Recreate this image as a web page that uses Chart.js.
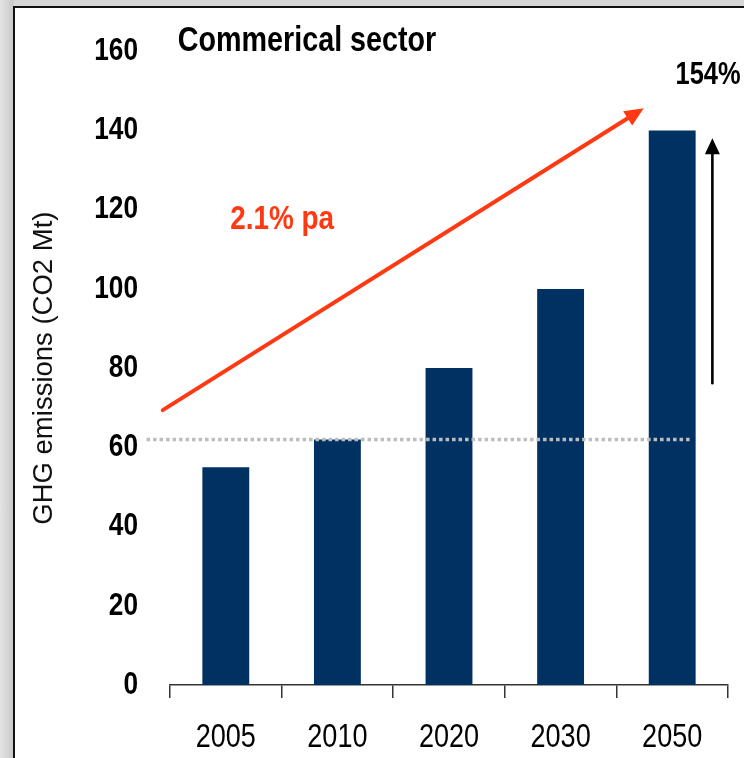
<!DOCTYPE html>
<html>
<head>
<meta charset="utf-8">
<script src="https://cdn.jsdelivr.net/npm/chart.js@4.4.0/dist/chart.umd.min.js"></script>
<style>
  html, body { margin: 0; padding: 0; width: 744px; height: 758px; overflow: hidden; }
  body { background: linear-gradient(to right, #e4e4e4 0px, #c9c9c9 13px, #d6d6d6 14px); position: relative; }
  #frame {
    position: absolute; left: 13px; top: 6px; right: 0; bottom: 0;
    background: #fff; border-left: 2px solid #111; border-top: 2px solid #111;
  }
  #wrap { position: absolute; left: 0; top: 0; width: 744px; height: 758px; }
</style>
</head>
<body>
<div id="frame"></div>
<div id="wrap"><canvas id="chart" width="744" height="758"></canvas></div>
<script>
// "Narrow" is not installed, so text in that family is squeezed horizontally below
const NARROW = '"Liberation Sans Narrow", "Liberation Sans", Arial, sans-serif';
const REGULAR = '"Liberation Sans", Arial, sans-serif';
const NARROW_SCALE = 0.82;

// data
const years = ["2005", "2010", "2020", "2030", "2050"];
const emissions = [55, 62, 80, 100, 140];
const yTicks = [0, 20, 40, 60, 80, 100, 120, 140, 160];
const baselineValue = 62;          // dotted reference line (2010 level)
const growthLabel = "2.1% pa";
const totalLabel = "154%";
const chartTitle = "Commerical sector";
const yTitle = "GHG emissions (CO2 Mt)";

// annotation anchors in data space: [category index, value]
const redArrow = { from: [-0.565, 69.4], to: [3.745, 145.6] };
const blackArrow = { from: [4.36, 76.2], to: [4.36, 138] };
const dottedLine = { from: [-0.71, baselineValue], to: [4.18, baselineValue] };

const canvas = document.getElementById("chart");
const ctx2d = canvas.getContext("2d");
const nativeFillText = CanvasRenderingContext2D.prototype.fillText;
ctx2d.fillText = function (text, x, y) {
    if (!this.font.includes("Narrow")) {
        return nativeFillText.call(this, text, x, y);
    }
    this.save();
    this.translate(x, y);
    this.scale(NARROW_SCALE, 1);
    nativeFillText.call(this, text, 0, 0);
    this.restore();
};

function drawArrow(ctx, x1, y1, x2, y2, color, width, headLen, headWidth) {
    const ang = Math.atan2(y2 - y1, x2 - x1);
    const bx = x2 - headLen * Math.cos(ang);
    const by = y2 - headLen * Math.sin(ang);
    ctx.save();
    ctx.strokeStyle = color;
    ctx.fillStyle = color;
    ctx.lineWidth = width;
    ctx.lineCap = "round";
    ctx.beginPath();
    ctx.moveTo(x1, y1);
    ctx.lineTo(bx + 2 * Math.cos(ang), by + 2 * Math.sin(ang));
    ctx.stroke();
    const px = -Math.sin(ang) * headWidth / 2;
    const py = Math.cos(ang) * headWidth / 2;
    ctx.beginPath();
    ctx.moveTo(x2, y2);
    ctx.lineTo(bx + px, by + py);
    ctx.lineTo(bx - px, by - py);
    ctx.closePath();
    ctx.fill();
    ctx.restore();
}

const annotations = {
    id: "annotations",
    afterDatasetsDraw(chart) {
        const { ctx, scales: { x, y } } = chart;
        const px = (p) => [x.getPixelForValue(p[0]), y.getPixelForValue(p[1])];

        // dotted baseline
        const [dx1, dy] = px(dottedLine.from);
        const [dx2] = px(dottedLine.to);
        ctx.save();
        ctx.strokeStyle = "#bdbdbd";
        ctx.lineWidth = 3.5;
        ctx.setLineDash([3.5, 3]);
        ctx.beginPath();
        ctx.moveTo(dx1, dy);
        ctx.lineTo(dx2, dy);
        ctx.stroke();
        ctx.restore();

        // growth arrows
        const [r1x, r1y] = px(redArrow.from);
        const [r2x, r2y] = px(redArrow.to);
        drawArrow(ctx, r1x, r1y, r2x, r2y, "#ff3a12", 4, 19, 17);
        const [b1x, b1y] = px(blackArrow.from);
        const [b2x, b2y] = px(blackArrow.to);
        drawArrow(ctx, b1x, b1y, b2x, b2y, "#000", 2.6, 16, 15);

        // texts
        ctx.save();
        ctx.textBaseline = "middle";
        ctx.textAlign = "left";
        ctx.fillStyle = "#000";
        ctx.font = "bold 35px " + NARROW;
        ctx.fillText(chartTitle, x.getPixelForValue(-0.43), y.getPixelForValue(162.5));
        ctx.font = "bold 31px " + NARROW;
        ctx.fillText(totalLabel, x.getPixelForValue(4.03), y.getPixelForValue(154));
        ctx.fillStyle = "#ff3a12";
        ctx.font = "bold 34px " + NARROW;
        ctx.fillText(growthLabel, x.getPixelForValue(0.04), y.getPixelForValue(117.6));
        ctx.restore();
    }
};

new Chart(canvas, {
    type: "bar",
    data: {
        labels: years,
        datasets: [{
            data: emissions,
            backgroundColor: "#003163",
            borderWidth: 0,
            barPercentage: 0.42,
            categoryPercentage: 1
        }]
    },
    options: {
        responsive: false,
        animation: false,
        events: [],
        layout: { padding: { left: 0, right: 16, top: 51, bottom: 0 } },
        plugins: {
            legend: { display: false },
            tooltip: { enabled: false },
            title: { display: false }
        },
        scales: {
            x: {
                offset: true,
                grid: {
                    offset: true,
                    drawOnChartArea: false,
                    drawTicks: true,
                    tickLength: 13,
                    color: "#333",
                    lineWidth: 1.5
                },
                border: { display: true, color: "#333", width: 1.5 },
                ticks: {
                    color: "#000",
                    padding: 20,
                    autoSkip: false,
                    maxRotation: 0,
                    font: { family: NARROW, size: 33 }
                },
                afterFit(scale) { scale.height = 73; }
            },
            y: {
                min: 0,
                max: 160,
                afterBuildTicks(scale) { scale.ticks = yTicks.map(v => ({ value: v })); },
                grid: { display: false, drawTicks: false, tickLength: 0 },
                border: { display: false },
                ticks: {
                    color: "#000",
                    padding: 32,
                    font: { family: NARROW, size: 32, weight: "bold" }
                },
                title: {
                    display: true,
                    text: yTitle,
                    color: "#111",
                    padding: { top: 28, bottom: 0 },
                    font: { family: REGULAR, size: 27.5 }
                },
                afterFit(scale) { scale.width = 170; }
            }
        }
    },
    plugins: [annotations]
});
</script>
</body>
</html>
